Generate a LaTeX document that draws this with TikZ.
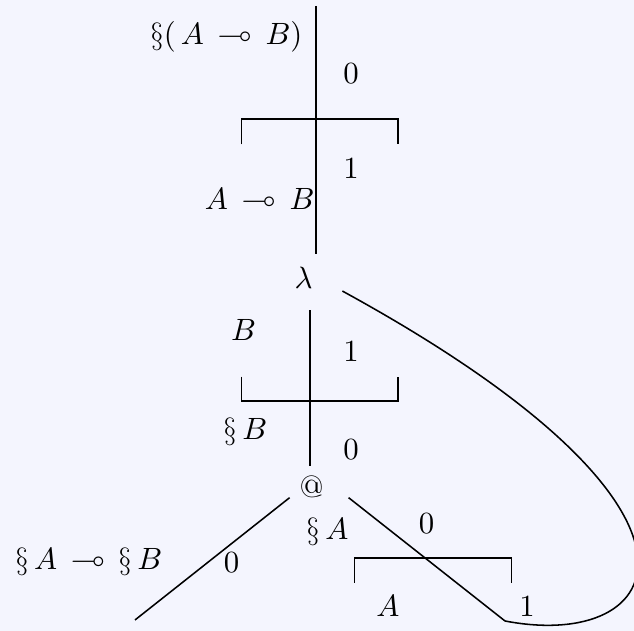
\documentclass[tikz,border=0pt,11pt]{standalone}
\usepackage{amssymb}
\usepackage{tikz}
\usetikzlibrary{calc}
\definecolor{paper}{HTML}{F4F5FE}
\tikzset{
  term/.style={inner sep=3.33pt},
  wire/.style={line width=0.55pt},
  door/.style={line width=0.6pt},
  lbl/.style={inner sep=2pt}
}

\begin{document}
\begin{tikzpicture}
\fill[paper] (0,0) rectangle (7.925,7.8875);
\useasboundingbox (0,0) rectangle (7.925,7.8875);
% terms
\node[term] (lam) at (3.794,4.419) {$\lambda$};
\node[term] (app) at (3.894,1.8) {@};
\coordinate (root) at (3.95,7.8125);
\coordinate (out) at (1.6875,0.1375);
\coordinate (var) at (6.3125,0.125);
% wires
\draw[wire, shorten >=1pt] (root) -- (root |- lam.north);
\draw[wire, shorten <=4.4pt] (lam.south -| 3.875,0) -- (3.875,0 |- app.north);
\draw[wire] (app.base west) -- (out);
\draw[wire] ([xshift=0.19cm]app.base east) -- (var);
\draw[wire] ([shift={(0.25,-0.17)}]lam.east) .. controls (9.375,1.4625) and (8.325,-0.2625) .. (var);
% doors
\draw[door] (3.0175,6.084) |- (4.979,6.396) -- (4.979,6.084);
\draw[door] (3.0175,3.179) |- (4.979,2.875) -- (4.979,3.179);
\draw[door] (4.4325,0.604) |- (6.394,0.916) -- (6.394,0.604);
% labels
\node[lbl, anchor=east] (ty1) at (3.858,7.425) {$\S(\,A\,\multimap\,B)$};
\node[lbl] (n1) at (4.3875,6.9625) {0};
\node[lbl] (n2) at (4.3875,5.781) {1};
\node[lbl, anchor=east] (ty2) at (4.008,5.4) {$A\,\multimap\,B$};
\node[lbl] (ty3) at (3.045,3.766) {$B$};
\node[lbl] (n3) at (4.3875,3.5) {1};
\node[lbl] (ty4) at (3.069,2.491) {$\S\,B$};
\node[lbl] (n4) at (4.3875,2.266) {0};
\node[lbl] (ty5) at (4.094,1.241) {$\S\,A$};
\node[lbl] (n5) at (5.331,1.3375) {0};
\node[lbl] (ty6) at (1.11,0.8625) {$\S\,A\,\multimap\,\S\,B$};
\node[lbl] (n6) at (2.896,0.856) {0};
\node[lbl] (ty7) at (4.85,0.3125) {$A$};
\node[lbl] (n7) at (6.5875,0.306) {1};
\end{tikzpicture}
\end{document}
